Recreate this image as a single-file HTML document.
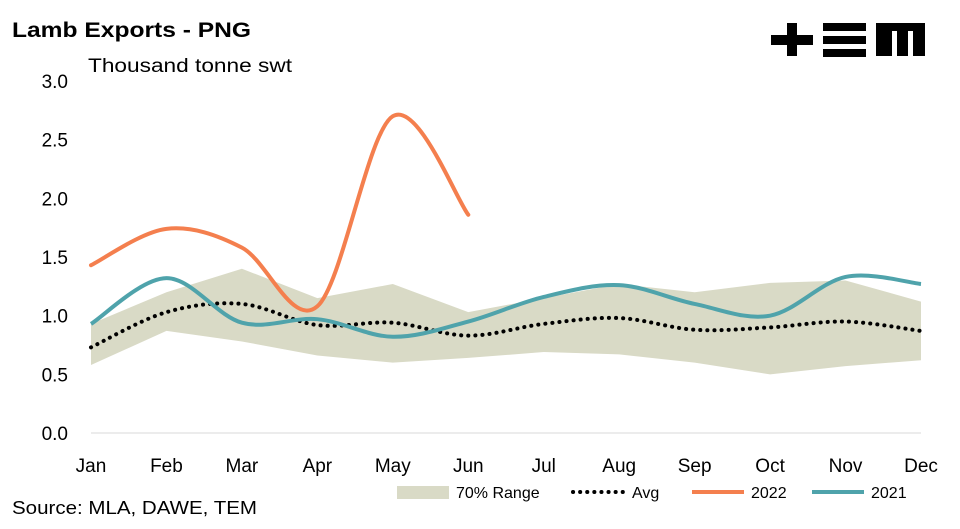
<!DOCTYPE html>
<html><head><meta charset="utf-8"><style>
body{margin:0;background:#fff;font-family:"Liberation Sans",Arial,sans-serif}
svg text{font-family:"Liberation Sans",Arial,sans-serif}
</style></head><body>
<svg id="c" width="960" height="524" xmlns="http://www.w3.org/2000/svg">
<text x="12" y="37" font-size="21" font-weight="bold" fill="#000" textLength="239" lengthAdjust="spacingAndGlyphs">Lamb Exports - PNG</text>
<text x="88" y="72" font-size="19" fill="#000" textLength="204" lengthAdjust="spacingAndGlyphs">Thousand tonne swt</text>
<g fill="#000">
<rect x="771" y="35" width="42" height="10"/><rect x="787" y="23" width="10" height="33"/>
<rect x="823" y="23" width="43" height="8"/><rect x="823" y="36" width="43" height="8"/><rect x="823" y="49" width="43" height="8"/>
<path d="M876 23H925V56H913V31H908V56H897V31H892V56H876Z"/>
</g>
<g id="plot"></g>
<text x="12" y="514" font-size="18" fill="#000" textLength="245" lengthAdjust="spacingAndGlyphs">Source: MLA, DAWE, TEM</text>
<g>
<rect x="397" y="486" width="52" height="13" fill="#d9dac6"/>
<text x="456" y="498" font-size="16">70% Range</text>
<line x1="573" y1="492" x2="625" y2="492" stroke="#000" stroke-width="4" stroke-dasharray="0.1 7" stroke-linecap="round"/>
<text x="632" y="498" font-size="16">Avg</text>
<line x1="692" y1="492" x2="744" y2="492" stroke="#f47f4e" stroke-width="4"/>
<text x="751" y="498" font-size="16">2022</text>
<line x1="812" y1="492" x2="864" y2="492" stroke="#4fa3ab" stroke-width="4"/>
<text x="871" y="498" font-size="16">2021</text>
</g>
</svg>
<script>
const months=["Jan","Feb","Mar","Apr","May","Jun","Jul","Aug","Sep","Oct","Nov","Dec"];
const yTicks=[0,0.5,1,1.5,2,2.5,3];
const rangeUpper=[0.93,1.2,1.4,1.15,1.27,1.03,1.15,1.27,1.2,1.28,1.3,1.12];
const rangeLower=[0.58,0.87,0.78,0.66,0.6,0.64,0.69,0.67,0.6,0.5,0.57,0.62];
const avg=[0.73,1.03,1.1,0.92,0.94,0.83,0.93,0.98,0.88,0.9,0.95,0.87];
const s2022=[1.43,1.74,1.58,1.08,2.7,1.86];
const s2021=[0.93,1.32,0.94,0.97,0.82,0.95,1.16,1.26,1.1,1.0,1.33,1.27];
const NS="http://www.w3.org/2000/svg";
const g=document.getElementById("plot");
const X=i=>91+i*(921-91)/11;
const Y=v=>433-v*(433-81)/3;
function el(t,a){const e=document.createElementNS(NS,t);for(const k in a)e.setAttribute(k,a[k]);g.appendChild(e);return e;}
function smooth(vals){const p=vals.map((v,i)=>[X(i),Y(v)]);let d="M"+p[0][0]+" "+p[0][1];
for(let i=0;i<p.length-1;i++){const p0=p[i-1]||p[i],p1=p[i],p2=p[i+1],p3=p[i+2]||p2;
d+=` C${p1[0]+(p2[0]-p0[0])/6} ${p1[1]+(p2[1]-p0[1])/6} ${p2[0]-(p3[0]-p1[0])/6} ${p2[1]-(p3[1]-p1[1])/6} ${p2[0]} ${p2[1]}`;}return d;}
yTicks.forEach(v=>{const t=el("text",{x:68,y:Y(v)+7,"font-size":19,"text-anchor":"end"});t.textContent=v.toFixed(1);

});
months.forEach((m,i)=>{const t=el("text",{x:X(i),y:472,"font-size":19,"text-anchor":"middle"});t.textContent=m;

});
let d="M"+rangeUpper.map((v,i)=>X(i)+" "+Y(v)).join(" L")+" L"+rangeLower.map((v,i)=>[i,v]).reverse().map(([i,v])=>X(i)+" "+Y(v)).join(" L")+"Z";
const band=el("path",{d:d,fill:"#d9dac6"});


const ax=el("line",{x1:91,y1:433,x2:921,y2:433,stroke:"#d9d9d9","stroke-width":1});


const a=el("path",{d:smooth(avg),fill:"none",stroke:"#000","stroke-width":4,"stroke-dasharray":"0.1 7","stroke-linecap":"round"});


const l21=el("path",{d:smooth(s2021),fill:"none",stroke:"#4fa3ab","stroke-width":4});


const l22=el("path",{d:smooth(s2022),fill:"none",stroke:"#f47f4e","stroke-width":4,"stroke-linecap":"round"});


</script>
</body></html>
